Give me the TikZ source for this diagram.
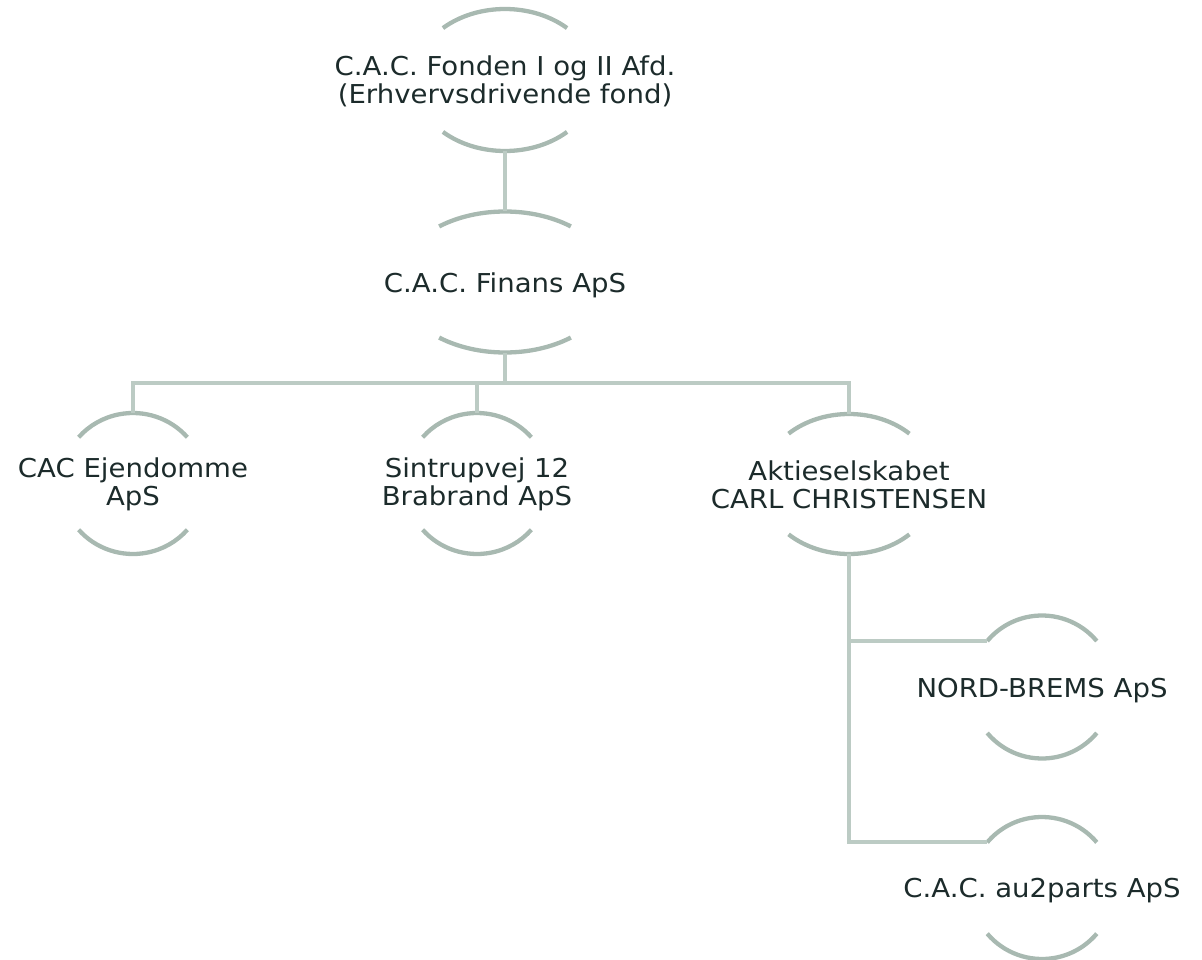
\documentclass[tikz,border=0pt]{standalone}
\usepackage{fontspec}
\setmainfont{DejaVu Sans}[FakeStretch=1.06]
\usetikzlibrary{calc}
\definecolor{arccol}{RGB}{168,185,177}
\definecolor{conncol}{RGB}{188,203,196}
\definecolor{txtcol}{RGB}{28,43,43}
\tikzset{
  lbl/.style={inner sep=0pt, align=center, text=txtcol, font=\fontsize{26pt}{28pt}\selectfont},
  arcline/.style={draw=arccol, line width=4.3pt},
  conn/.style={draw=conncol, line width=4pt},
}
% #1 name, #2 x-radius, #3 y-radius, #4 half-angle
\newcommand\orgarcs[4]{%
  \coordinate (#1-t) at ([shift={(0,{-#3})}]#1c);
  \coordinate (#1-b) at ([shift={(0,{#3})}]#1c);
  \coordinate (#1-tl) at ([shift={({-#2*cos(#4)},{-#3*sin(#4)})}]#1c);
  \draw[arcline] ([shift={({#2*cos(#4)},{-#3*sin(#4)})}]#1c)
     arc[start angle=#4, end angle=180-#4, x radius=#2pt, y radius=#3pt];
  \draw[arcline] ([shift={({-#2*cos(#4)},{#3*sin(#4)})}]#1c)
     arc[start angle=180+#4, end angle=360-#4, x radius=#2pt, y radius=#3pt];
}
\begin{document}
\begin{tikzpicture}[x=1pt,y=-1pt]
\useasboundingbox (0,0) rectangle (1202,960);
% shape centres
\coordinate (fondenc) at (505,80);
\coordinate (finansc) at (505,282);
\coordinate (ejdc) at (133,483.5);
\coordinate (sinc) at (477,483.5);
\coordinate (aktc) at (849,484);
\coordinate (nordc) at (1042,687);
\coordinate (auc) at (1042,888);
% texts
\node[lbl] (fonden) at ([yshift=-1pt]fondenc) {C.A.C. Fonden I og II Afd.\\(Erhvervsdrivende fond)};
\node[lbl] (finans) at ([yshift=-3pt]finansc) {C.A.C. Finans ApS};
\node[lbl] (ejd) at ([yshift=-1pt]ejdc) {CAC Ejendomme\\ApS};
\node[lbl] (sin) at ([yshift=-1pt]sinc) {Sintrupvej 12\\Brabrand ApS};
\node[lbl] (akt) at ([yshift=-1pt]aktc) {Aktieselskabet\\CARL CHRISTENSEN};
\node[lbl] (nord) at ([yshift=-3.5pt]nordc) {NORD-BREMS ApS};
\node[lbl] (au) at ([yshift=-3pt]auc) {C.A.C. au2parts ApS};

\orgarcs{fonden}{91}{71}{47}
\orgarcs{finans}{107}{70.5}{52}
\orgarcs{ejd}{72}{70.5}{41}
\orgarcs{sin}{72}{70.5}{41}
\orgarcs{akt}{87}{70}{46}
\orgarcs{nord}{71.5}{71.5}{40}
\orgarcs{au}{71.5}{71}{40}

\coordinate (bus) at (0,383);
\draw[conn] (fonden-b) -- (finans-t);
\draw[conn] (finans-b) -- (finans-b |- bus);
\draw[conn] (ejd-t) |- (akt-t |- bus) -- (akt-t);
\draw[conn] (sin-t) -- (sin-t |- bus);
\draw[conn] (akt-b) |- (au-tl);
\draw[conn] (akt-b |- nord-tl) -- (nord-tl);
\end{tikzpicture}
\end{document}
